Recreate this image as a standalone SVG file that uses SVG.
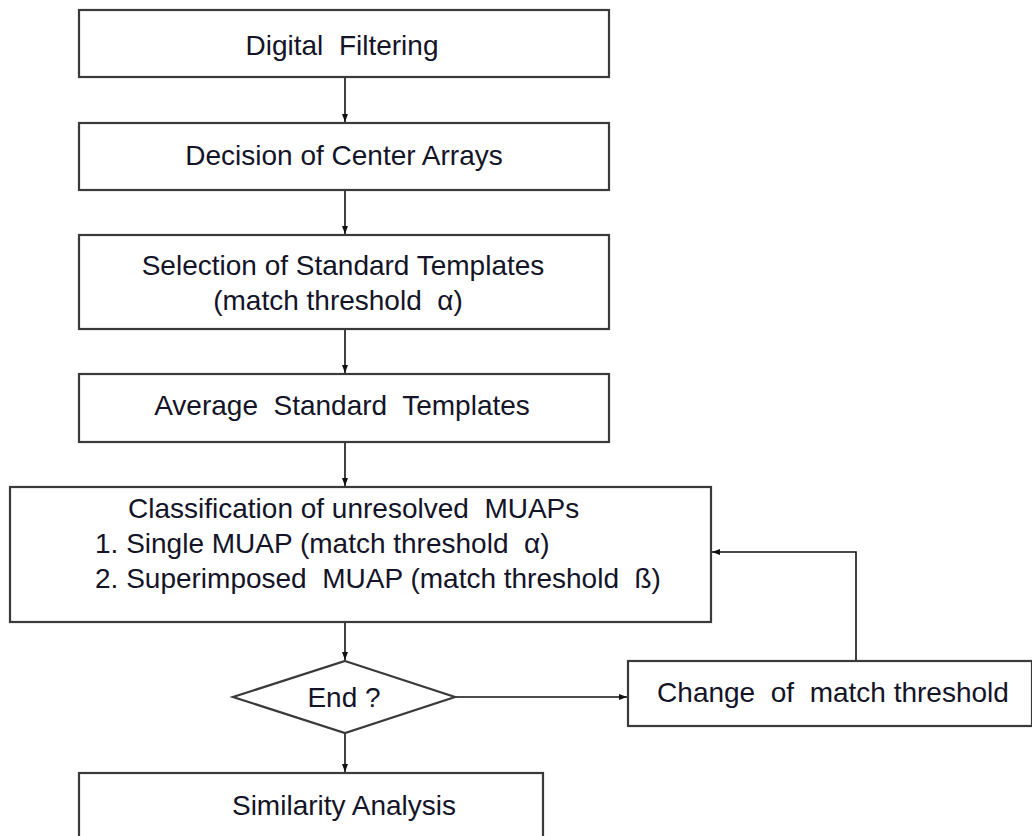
<svg xmlns="http://www.w3.org/2000/svg" width="1032" height="836" viewBox="0 0 1032 836">
<defs>
<marker id="ah" viewBox="0 0 8 8" refX="8" refY="4" markerWidth="8" markerHeight="8" markerUnits="userSpaceOnUse" orient="auto">
<path d="M0,1 L8,4 L0,7 Z" fill="#111"/>
</marker>
<style>
.box{fill:#fff;stroke:#3a3a3a;stroke-width:2.2}
.t{font-family:"Liberation Sans",Arial,sans-serif;font-size:28px;fill:#141428;white-space:pre}
.c{text-anchor:middle}
.ln{fill:none;stroke:#111;stroke-width:1.6}
</style>
</defs>
<rect width="1032" height="836" fill="#fff"/>
<g id="connectors">
<line class="ln" x1="345" y1="77" x2="345" y2="122" marker-end="url(#ah)"/>
<line class="ln" x1="345" y1="190" x2="345" y2="234" marker-end="url(#ah)"/>
<line class="ln" x1="345" y1="329" x2="345" y2="373" marker-end="url(#ah)"/>
<line class="ln" x1="345" y1="442" x2="345" y2="486" marker-end="url(#ah)"/>
<line class="ln" x1="345" y1="622" x2="345" y2="660" marker-end="url(#ah)"/>
<line class="ln" x1="345" y1="733" x2="345" y2="772" marker-end="url(#ah)"/>
<line class="ln" x1="455" y1="697" x2="627" y2="697" marker-end="url(#ah)"/>
<polyline class="ln" points="856,661 856,552 712,552" marker-end="url(#ah)"/>
</g>
<g id="n1"><rect class="box" x="79" y="10" width="530" height="67"/><text class="t c" x="342" y="55" xml:space="preserve">Digital  Filtering</text></g>
<g id="n2"><rect class="box" x="79" y="123" width="530" height="67"/><text class="t c" x="344" y="165">Decision of Center Arrays</text></g>
<g id="n3"><rect class="box" x="79" y="235" width="530" height="94"/><text class="t c" x="343" y="275">Selection of Standard Templates</text><text class="t c" x="338" y="310" xml:space="preserve">(match threshold  α)</text></g>
<g id="n4"><rect class="box" x="79" y="374" width="530" height="68"/><text class="t c" x="342" y="415" xml:space="preserve">Average  Standard  Templates</text></g>
<g id="n5"><rect class="box" x="10" y="487" width="701" height="135"/>
<text class="t" x="128" y="518" xml:space="preserve">Classification of unresolved  MUAPs</text>
<text class="t" x="95" y="553" xml:space="preserve">1. Single MUAP (match threshold  α)</text>
<text class="t" x="95" y="588" xml:space="preserve">2. Superimposed  MUAP (match threshold  ß)</text></g>
<g id="n6"><polygon class="box" points="345,661 455,697 345,733 233,697"/><text class="t c" x="344" y="707">End ?</text></g>
<g id="n7"><rect class="box" x="628" y="661" width="404" height="65"/><text class="t c" x="833" y="702" xml:space="preserve">Change  of  match threshold</text></g>
<g id="n8"><rect class="box" x="79" y="773" width="464" height="80"/><text class="t c" x="344" y="815">Similarity Analysis</text></g>
</svg>
